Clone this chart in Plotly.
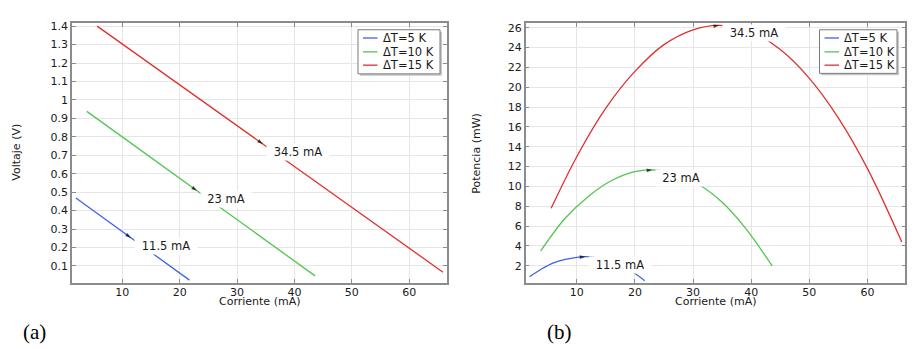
import plotly.graph_objects as go

# ---------------- data ----------------
series_names = ["ΔT=5 K", "ΔT=10 K", "ΔT=15 K"]
label_texts = ["11.5 mA", "23 mA", "34.5 mA"]

# (a) Voltage vs current
iv_current_5 = [1.9, 11.5, 21.7]
iv_voltage_5 = [0.468, 0.252, 0.023]
iv_current_10 = [3.8, 23.0, 43.6]
iv_voltage_10 = [0.938, 0.507, 0.046]
iv_current_15 = [5.6, 34.5, 65.9]
iv_voltage_15 = [1.40, 0.761, 0.066]
iv_label_index = [1, 1, 1]

# (b) Power vs current
p_current_5 = [1.9, 4, 6, 8, 10, 11.5, 13, 16, 19, 21.7]
p_power_5 = [0.9, 1.7, 2.3, 2.65, 2.86, 2.92, 2.85, 2.4, 1.6, 0.5]
p_current_10 = [3.8, 8, 12, 16, 20, 23, 27, 31, 35, 39, 43.6]
p_power_10 = [3.5, 6.8, 9.0, 10.6, 11.5, 11.67, 11.3, 10.2, 8.4, 5.8, 2.0]
p_current_15 = [5.6, 10, 15, 20, 25, 30, 34.5, 40, 45, 50, 55, 60, 65.9]
p_power_15 = [7.8, 13.0, 17.9, 21.6, 24.3, 25.8, 26.25, 25.6, 23.8, 20.9, 16.9, 11.8, 4.4]
p_label_index = [5, 5, 6]

x_tickvals = [10, 20, 30, 40, 50, 60]
v_tickvals = [0.1, 0.2, 0.3, 0.4, 0.5, 0.6, 0.7, 0.8, 0.9, 1.0, 1.1, 1.2, 1.3, 1.4]
v_ticktext = ["0.1", "0.2", "0.3", "0.4", "0.5", "0.6", "0.7", "0.8", "0.9",
              "1", "1.1", "1.2", "1.3", "1.4"]
p_tickvals = [2, 4, 6, 8, 10, 12, 14, 16, 18, 20, 22, 24, 26]

x_title = "Corriente (mA)"
v_title = "Voltaje (V)"
p_title = "Potencia (mW)"
panel_tags = ["(a)", "(b)"]

# ---------------- styling ----------------
W, H = 916, 349
colors = ["#4262e6", "#52c452", "#e0312f"]
FONT = "DejaVu Sans"
TXT = "#1a1a1a"
frame_col = "#8c8c8c"
grid_col = "#e6e6e6"
label_widths = [60, 48, 60]


def px(x):
    return x / W


def py(y):
    return 1 - y / H


fig = go.Figure()

iv_sets = [(iv_current_5, iv_voltage_5), (iv_current_10, iv_voltage_10),
           (iv_current_15, iv_voltage_15)]
p_sets = [(p_current_5, p_power_5), (p_current_10, p_power_10),
          (p_current_15, p_power_15)]

annotations = []
shapes = []

for panel, (sets, idxs, xa, ya) in enumerate([
        (iv_sets, iv_label_index, "x", "y"),
        (p_sets, p_label_index, "x2", "y2")]):
    for k, (xs, ys) in enumerate(sets):
        fig.add_trace(go.Scatter(
            x=xs, y=ys, mode="lines", name=series_names[k],
            line=dict(color=colors[k], width=1.3,
                      shape="spline" if panel == 1 else "linear"),
            xaxis=xa, yaxis=ya, showlegend=False, hoverinfo="skip"))
    for k, (xs, ys) in enumerate(sets):
        i = idxs[k]
        fig.add_trace(go.Scatter(
            x=[xs[i - 1], xs[i]], y=[ys[i - 1], ys[i]], mode="markers",
            marker=dict(symbol="arrow", size=[0, 6], color="black",
                        angleref="previous", line=dict(width=0)),
            xaxis=xa, yaxis=ya, showlegend=False, hoverinfo="skip"))
        annotations.append(dict(
            x=xs[i], y=ys[i], xref=xa, yref=ya, text=label_texts[k],
            showarrow=False, xanchor="left", yanchor="top", xshift=3,
            yshift=1, width=label_widths[k], height=14, borderpad=1,
            bgcolor="white", align="center",
            font=dict(family=FONT, size=11.5, color=TXT)))

# legends (one per panel), drawn as a box with line samples and labels
legend_boxes = [(358, 440, 27, 71.5), (819.5, 897, 27, 71)]
legend_rows = [35.3, 49.3, 62.7]
for (x0, x1, y0, y1) in legend_boxes:
    shapes.append(dict(type="rect", xref="paper", yref="paper",
                       x0=px(x0 + 2), x1=px(x1 + 2), y0=py(y0 + 2), y1=py(y1 + 2),
                       line=dict(width=0), fillcolor="#c8c8c8", layer="above"))
    shapes.append(dict(type="rect", xref="paper", yref="paper",
                       x0=px(x0), x1=px(x1), y0=py(y0), y1=py(y1),
                       line=dict(width=1, color="#7a7a7a"), fillcolor="white",
                       layer="above"))
    for k, yr in enumerate(legend_rows):
        shapes.append(dict(type="line", xref="paper", yref="paper",
                           x0=px(x0 + 5), x1=px(x0 + 19.5), y0=py(yr), y1=py(yr),
                           line=dict(width=1.3, color=colors[k]), layer="above"))
        annotations.append(dict(text=series_names[k], x=px(x0 + 22.5), y=py(yr),
                                xref="paper", yref="paper", showarrow=False,
                                xanchor="left", yanchor="middle",
                                font=dict(family=FONT, size=11.5, color=TXT)))

ax_common = dict(showline=True, linecolor=frame_col, linewidth=1.5,
                 mirror="allticks", ticks="inside", ticklen=4,
                 tickcolor=frame_col, tickwidth=1, showgrid=True,
                 gridcolor=grid_col, gridwidth=1, zeroline=False,
                 tickfont=dict(family=FONT, size=11, color=TXT))

y_dom = [py(282.5), py(20)]
fig.update_layout(
    width=W, height=H, margin=dict(l=0, r=0, t=0, b=0),
    paper_bgcolor="white", plot_bgcolor="white", showlegend=False,
    xaxis=dict(domain=[px(72), px(447)], range=[1.22, 66.6],
               tickvals=x_tickvals, anchor="y", ticklabelstandoff=-2,
               **ax_common),
    yaxis=dict(domain=y_dom, range=[0.007, 1.418], tickvals=v_tickvals,
               ticktext=v_ticktext, anchor="x", **ax_common),
    xaxis2=dict(domain=[px(525.7), px(905.3)], range=[1.22, 66.5],
                tickvals=x_tickvals, anchor="y2", ticklabelstandoff=-2,
                **ax_common),
    yaxis2=dict(domain=y_dom, range=[0.26, 26.5], tickvals=p_tickvals,
                anchor="x2", **ax_common),
)

title_font = dict(family=FONT, size=11, color=TXT)
tag_font = dict(family="Liberation Serif", size=21, color="black")
annotations += [
    dict(text=x_title, x=px(259.5), y=py(301.5), xref="paper", yref="paper",
         showarrow=False, font=title_font, xanchor="center", yanchor="middle"),
    dict(text=x_title, x=px(715.5), y=py(301.5), xref="paper", yref="paper",
         showarrow=False, font=title_font, xanchor="center", yanchor="middle"),
    dict(text=v_title, x=px(17), y=py(151), xref="paper", yref="paper",
         showarrow=False, font=title_font, textangle=-90,
         xanchor="center", yanchor="middle"),
    dict(text=p_title, x=px(477), y=py(151), xref="paper", yref="paper",
         showarrow=False, font=title_font, textangle=-90,
         xanchor="center", yanchor="middle"),
    dict(text=panel_tags[0], x=px(34), y=py(332), xref="paper", yref="paper",
         showarrow=False, font=tag_font, xanchor="center", yanchor="middle"),
    dict(text=panel_tags[1], x=px(559.5), y=py(332), xref="paper", yref="paper",
         showarrow=False, font=tag_font, xanchor="center", yanchor="middle"),
]
fig.update_layout(annotations=annotations, shapes=shapes)

fig.write_html(
    "out.html",
    config={"displayModeBar": False},
    post_script="document.body.style.margin='0';document.body.style.padding='0';",
)
